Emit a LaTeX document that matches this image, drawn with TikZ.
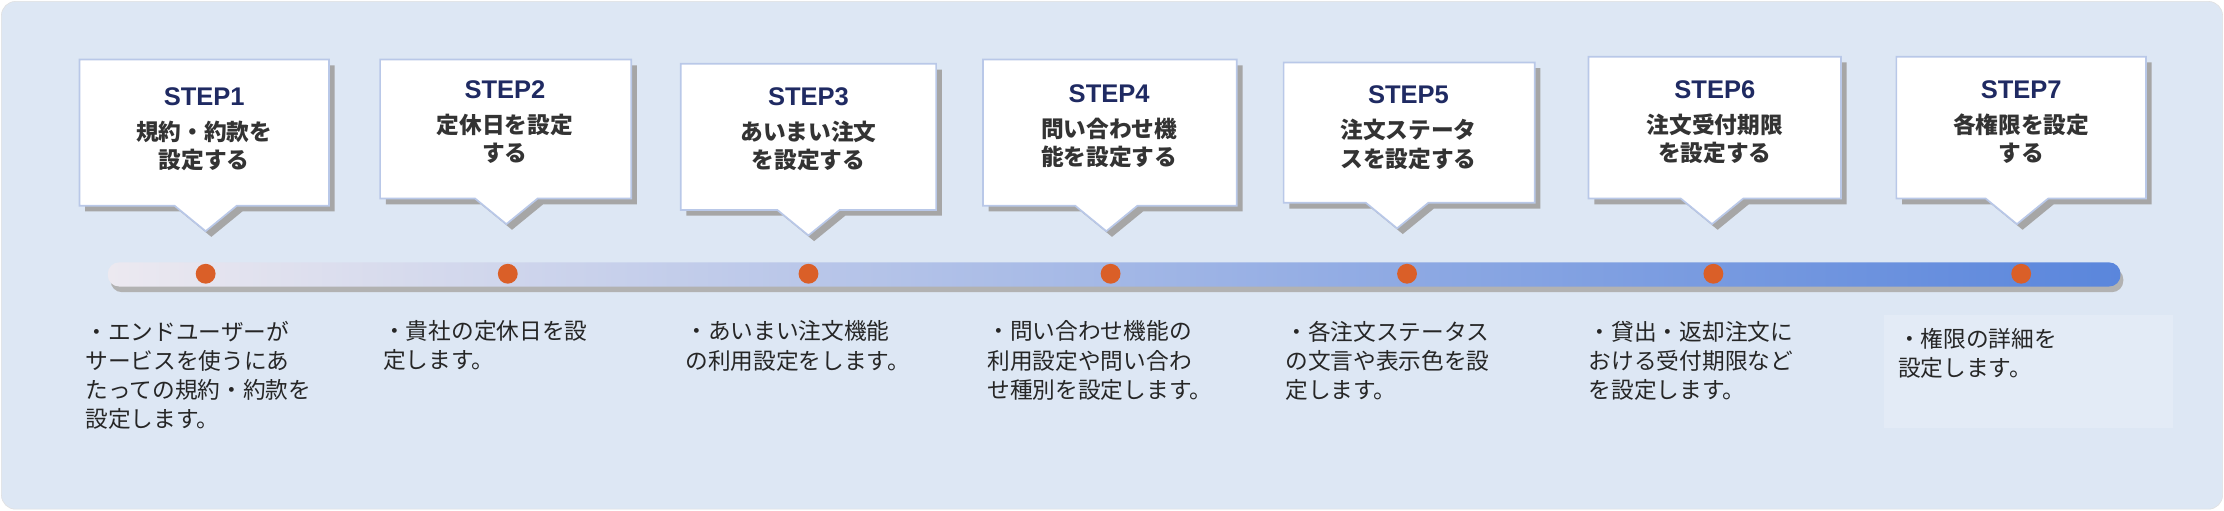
\documentclass[tikz,border=0pt]{standalone}
\usepackage{fontspec}
\setmainfont{Noto Sans CJK JP}
\newfontfamily\stepf{Liberation Sans}
\begin{document}
\begin{tikzpicture}[x=1pt,y=-1pt,
  steptxt/.style={align=center,font=\fontsize{16}{20}\selectfont\bfseries,text=black!80,inner sep=0},
  desc/.style={align=left,anchor=north west,font=\fontsize{16}{20.5}\selectfont,text=black!85,inner sep=0},
  stepl/.style={font=\stepf\fontsize{18}{20}\selectfont\bfseries,text=navy},
  dot/.style={circle,fill=dotc,inner sep=0,minimum size=14pt}]
\definecolor{bgc}{HTML}{DDE7F4}
\definecolor{bord}{HTML}{B9C8E8}
\definecolor{navy}{HTML}{1F2A62}
\definecolor{dotc}{HTML}{DA5F28}
\definecolor{gl}{HTML}{ECE9F0}
\definecolor{gr}{HTML}{5A86DC}
\useasboundingbox (0,0) rectangle (1568,360);
\fill[white] (0,0) rectangle (1568,360);
\fill[bgc,draw=black!12,rounded corners=10pt] (1,1) rectangle (1567,359);
\fill[black!30,rounded corners=8pt] (78,189) rectangle (1497,206);
\shade[left color=gl,right color=gr,rounded corners=8pt] (76,185) rectangle (1495,202);
\newcommand\callout[5]{%
 \fill[black!35,shift={(4pt,-4pt)}] (#1,#3)--(#2,#3)--(#2,#4)--(#5+22,#4)--(#5,#4+18)--(#5-22,#4)--(#1,#4)--cycle;
 \filldraw[fill=white,draw=bord,line width=1.2pt] (#1,#3)--(#2,#3)--(#2,#4)--(#5+22,#4)--(#5,#4+18)--(#5-22,#4)--(#1,#4)--cycle;
}
\callout{56}{232}{42}{145}{145}
\callout{268}{445}{42}{140}{357}
\callout{480}{660}{45}{148}{570}
\callout{693}{872}{42}{145}{780}
\callout{905}{1082}{44}{143}{985}
\callout{1120}{1298}{40}{140}{1207}
\callout{1337}{1513}{40}{140}{1422}
\node[stepl] (s1) at (144,68) {STEP1};
\node[steptxt,anchor=north] (t1) at (144,85) {規約・約款を\\設定する};
\node[stepl] (s2) at (356,63) {STEP2};
\node[steptxt,anchor=north] (t2) at (356,80) {定休日を設定\\する};
\node[stepl] (s3) at (570,68) {STEP3};
\node[steptxt,anchor=north] (t3) at (570,85) {あいまい注文\\を設定する};
\node[stepl] (s4) at (782,66) {STEP4};
\node[steptxt,anchor=north] (t4) at (782,83) {問い合わせ機\\能を設定する};
\node[stepl] (s5) at (993,67) {STEP5};
\node[steptxt,anchor=north] (t5) at (993,84) {注文ステータ\\スを設定する};
\node[stepl] (s6) at (1209,63) {STEP6};
\node[steptxt,anchor=north] (t6) at (1209,80) {注文受付期限\\を設定する};
\node[stepl] (s7) at (1425,63) {STEP7};
\node[steptxt,anchor=north] (t7) at (1425,80) {各権限を設定\\する};
\foreach \x [count=\i] in {145,358,570,783,992,1208,1425} \node[dot] (d\i) at (\x,193) {};
\fill[white,opacity=0.2] (1328,222) rectangle (1532,302);
\node[desc] (e1) at (60,226) {・エンドユーザーが\\サービスを使うにあ\\たっての規約・約款を\\設定します。};
\node[desc] (e2) at (270,226) {・貴社の定休日を設\\定します。};
\node[desc] (e3) at (483,226) {・あいまい注文機能\\の利用設定をします。};
\node[desc] (e4) at (696,226) {・問い合わせ機能の\\利用設定や問い合わ\\せ種別を設定します。};
\node[desc] (e5) at (906,226) {・各注文ステータス\\の文言や表示色を設\\定します。};
\node[desc] (e6) at (1120,226) {・貸出・返却注文に\\おける受付期限など\\を設定します。};
\node[desc] (e7) at (1338,231) {・権限の詳細を\\設定します。};
\end{tikzpicture}
\end{document}
